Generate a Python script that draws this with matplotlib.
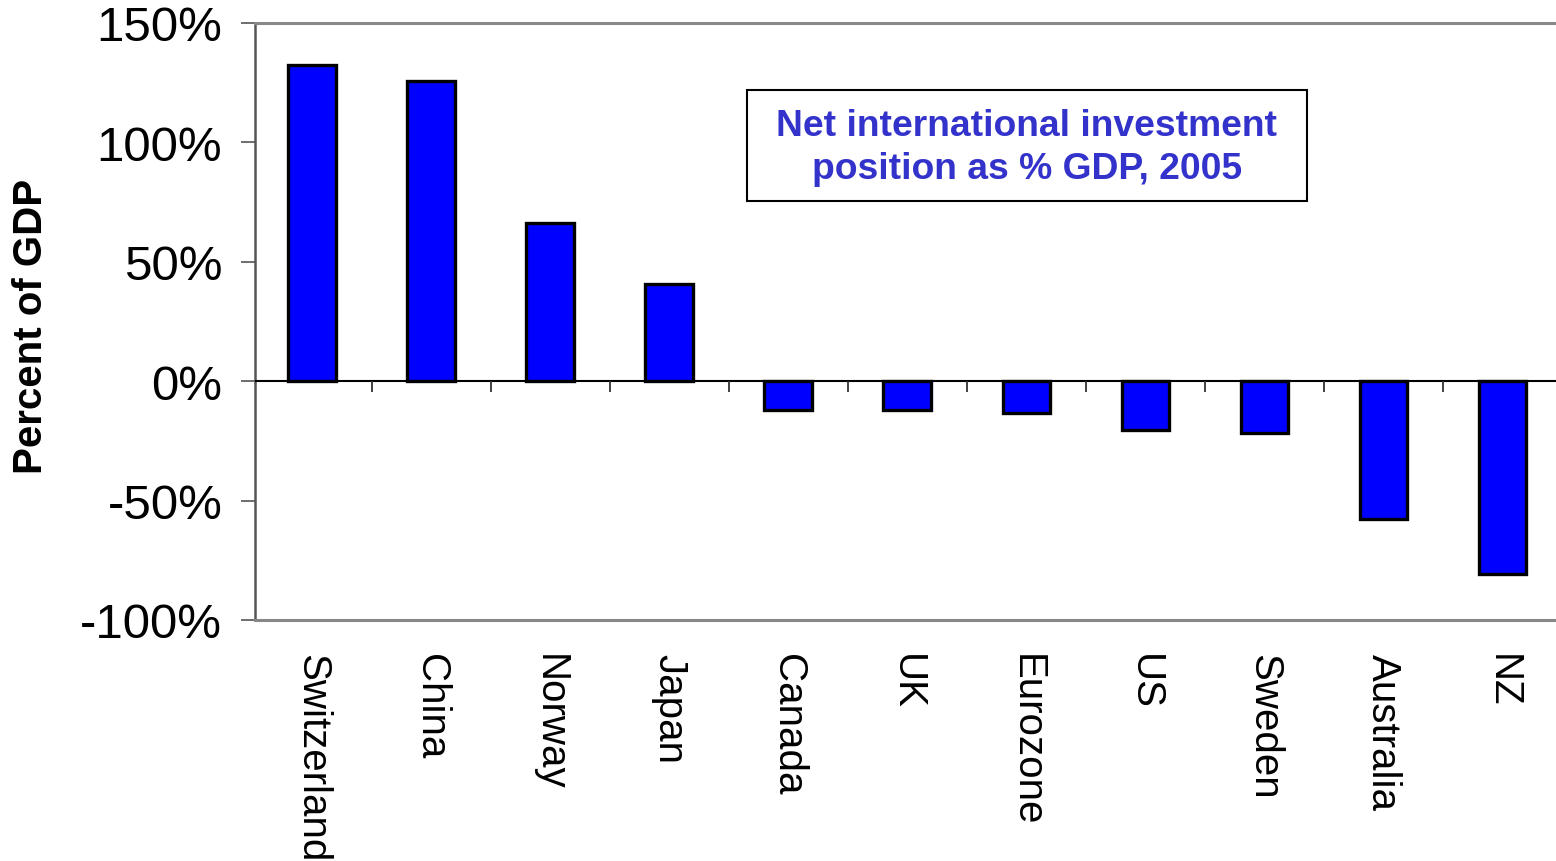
import matplotlib
matplotlib.use("Agg")
import matplotlib.pyplot as plt
import numpy as np
from matplotlib.ticker import FuncFormatter
from matplotlib.patches import Rectangle

plt.rcParams['font.family'] = ['Liberation Sans', 'DejaVu Sans']

countries = ["Switzerland", "China", "Norway", "Japan", "Canada", "UK",
             "Eurozone", "US", "Sweden", "Australia", "NZ"]
values = [132.6, 125.9, 66.4, 40.8, -12.0, -12.0, -13.3, -20.4, -21.7, -57.7, -80.8]
yticks = [-100, -50, 0, 50, 100, 150]

W, H = 1556, 862
fig = plt.figure(figsize=(W/100, H/100), dpi=100)
ax = fig.add_axes([255/W, 1 - 621/H, 1 - 255/W, (621 - 24)/H])

x = np.arange(len(countries))
ax.bar(x, values, width=0.40, color="#0000FF", edgecolor="black", linewidth=2.4, zorder=3)

ax.set_xlim(-0.48, 10.45)
ax.set_ylim(-100, 150)
ax.set_yticks(yticks)
ax.yaxis.set_major_formatter(FuncFormatter(lambda v, p: f"{v:.0f}%"))
ax.tick_params(axis='y', labelsize=35.5, length=10, width=1.2, color="#555555", pad=13.5)

# zero line with category-boundary ticks
ax.axhline(0, color="black", linewidth=1.5, zorder=4)
bounds = x[:-1] + 0.5
ax.vlines(bounds, -4.5, 0, color="#333333", linewidth=1.3, zorder=4)

ax.set_xticks(x)
ax.set_xticklabels(countries, rotation=270, fontsize=29, va="top", ha="center")
ax.tick_params(axis='x', length=0, pad=24)

for s in ["top", "bottom"]:
    ax.spines[s].set_color("#888888")
    ax.spines[s].set_linewidth(2.2)
ax.spines["right"].set_visible(False)
ax.spines["left"].set_color("#555555")
ax.spines["left"].set_linewidth(1.8)

fig.text(31/W, 1 - 326/H, "Percent of GDP", rotation=90, ha="center", va="center",
         fontsize=29, fontweight="bold")

fig.patches.append(Rectangle((747/W, 1 - 202/H), (1307 - 747)/W, (202 - 91)/H,
                             transform=fig.transFigure, facecolor="white",
                             edgecolor="black", linewidth=1.5, zorder=5))
fig.text(1027/W, 1 - 148/H, "Net international investment\nposition as % GDP, 2005",
         ha="center", va="center", fontsize=26.8, fontweight="bold", color="#3333CC",
         linespacing=1.32, zorder=6)

fig.savefig("out.png", dpi=100)
